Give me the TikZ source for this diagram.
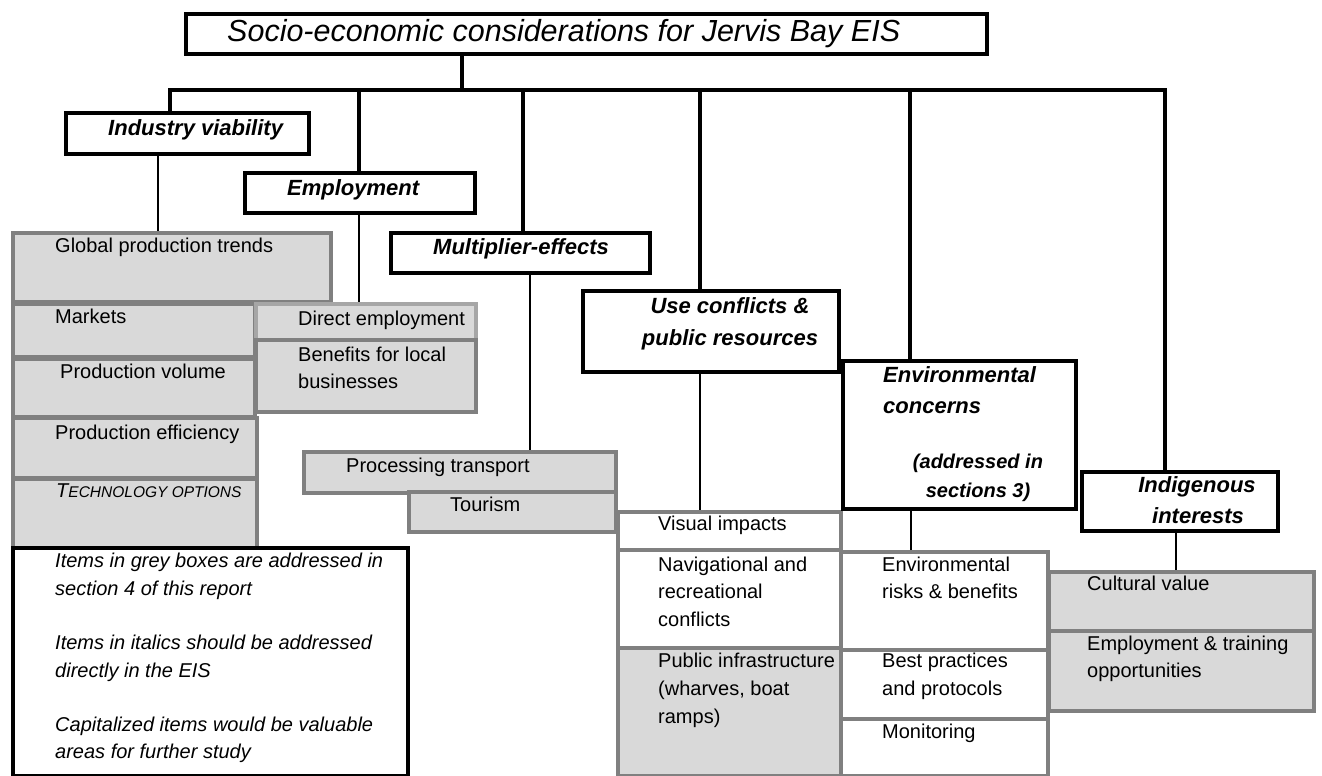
\documentclass[tikz,border=0pt]{standalone}
\usepackage{fontspec}
\setmainfont{Liberation Sans}
\definecolor{gf}{HTML}{D9D9D9}
\definecolor{gb}{HTML}{808080}
\definecolor{gbl}{HTML}{A6A6A6}
\begin{document}
\begin{tikzpicture}[x=1pt,y=-1pt,
  hbox/.style={draw=black, line width=4pt, fill=white, inner sep=0pt, anchor=north west},
  gbox/.style={draw=gb, line width=4pt, fill=gf, inner sep=0pt, anchor=north west},
  wbox/.style={draw=gb, line width=4pt, fill=white, inner sep=0pt, anchor=north west},
  thick4/.style={line width=4pt, draw=black},
  thin2/.style={line width=1.8pt, draw=black},
  bodytxt/.style={inner sep=0pt, anchor=base west, font=\fontsize{20}{24}\selectfont},
  legtxt/.style={inner sep=0pt, anchor=base west, font=\fontsize{20}{24}\selectfont\itshape},
  headtxt/.style={inner sep=0pt, anchor=base west, font=\fontsize{22}{26}\selectfont\bfseries\itshape},
  headc/.style={headtxt, anchor=base},
  subhead/.style={inner sep=0pt, anchor=base, font=\fontsize{20}{24}\selectfont\bfseries\itshape},
  titletxt/.style={inner sep=0pt, anchor=base west, font=\fontsize{30.5}{34}\selectfont\itshape}
]
\useasboundingbox (0,0) rectangle (1322,776);
\fill[white] (0,0) rectangle (1322,776);

% ---------- grey boxes ----------
\node[gbox, minimum width=318, minimum height=69] (glob) at (11,231) {};
\node[gbox, minimum width=242, minimum height=53] (mkt) at (11,302) {};
\node[gbox, minimum width=242, minimum height=58] (pvol) at (11,357) {};
\node[gbox, minimum width=244, minimum height=60] (peff) at (11,416) {};
\node[gbox, minimum width=244, minimum height=80] (tech) at (11,477) {};
\node[gbox, draw=gbl, minimum width=220, minimum height=36] (dir) at (254,302) {};
\node[gbox, minimum width=220, minimum height=72] (ben) at (254,338) {};
\node[gbox, minimum width=312, minimum height=41] (proc) at (302,450) {};
\node[gbox, minimum width=207, minimum height=40] (tour) at (407,490) {};
\node[gbox, minimum width=223, minimum height=128] (pub) at (616,646) {};
\node[gbox, minimum width=265, minimum height=60] (cult) at (1047,570) {};
\node[gbox, minimum width=265, minimum height=80] (empt) at (1047,629) {};

% ---------- white boxes with grey border ----------
\node[wbox, minimum width=223, minimum height=38] (vis) at (616,510) {};
\node[wbox, minimum width=223, minimum height=98] (nav) at (616,548) {};
\node[wbox, minimum width=207, minimum height=98] (envr) at (839,550) {};
\node[wbox, minimum width=207, minimum height=69] (best) at (839,648) {};
\node[wbox, minimum width=207, minimum height=57] (mon) at (839,717) {};

% ---------- black heading boxes ----------
\node[hbox, minimum width=801, minimum height=40] (title) at (184,12) {};
\node[hbox, minimum width=243, minimum height=41] (indv) at (64,111) {};
\node[hbox, minimum width=230, minimum height=40] (emp) at (243,171) {};
\node[hbox, minimum width=259, minimum height=40] (mult) at (389,231) {};
\node[hbox, minimum width=256, minimum height=81] (use) at (581,289) {};
\node[hbox, minimum width=233, minimum height=148] (env) at (841,359) {};
\node[hbox, minimum width=196, minimum height=59] (indg) at (1080,470) {};
\node[hbox, minimum width=395, minimum height=228] (leg) at (11,546) {};

% ---------- connectors ----------
\coordinate (busL) at (170,90);
\coordinate (busR) at (1165,90);
\coordinate (bt) at (462,90);
\coordinate (be) at (359,90);
\coordinate (bm) at (523,90);
\coordinate (bu) at (700,90);
\coordinate (bv) at (910,90);
\draw[thick4] (busL |- indv.north) -- (busL) -- (busR) -- (busR |- indg.north);
\draw[thick4] (bt) -- (bt |- title.south);
\draw[thick4] (be) -- (be |- emp.north);
\draw[thick4] (bm) -- (bm |- mult.north);
\draw[thick4] (bu) -- (bu |- use.north);
\draw[thick4] (bv) -- (bv |- env.north);

\coordinate (ci) at (158,0);
\coordinate (ce) at (359,0);
\coordinate (cm) at (530,0);
\coordinate (cu) at (700,0);
\coordinate (cv) at (911,0);
\coordinate (cg) at (1176,0);
\draw[thin2] (indv.south -| ci) -- (glob.north -| ci);
\draw[thin2] (emp.south -| ce) -- (dir.north -| ce);
\draw[thin2] (mult.south -| cm) -- (proc.north -| cm);
\draw[thin2] (use.south -| cu) -- (vis.north -| cu);
\draw[thin2] (env.south -| cv) -- (envr.north -| cv);
\draw[thin2] (indg.south -| cg) -- (cult.north -| cg);

% ---------- texts ----------
\node[titletxt] (titlet) at (227,42) {Socio-economic considerations for Jervis Bay EIS};
\node[headtxt] (indvt) at (108,135) {Industry viability};
\node[headtxt] (empt1) at (287,195) {Employment};
\node[headtxt] (multt) at (433,254) {Multiplier-effects};
\node[headc] (uset1) at (730,313) {Use conflicts \&};
\node[headc] (uset2) at (730,345) {public resources};
\node[headtxt] (envt1) at (883,382) {Environmental};
\node[headtxt] (envt2) at (883,413) {concerns};
\node[subhead] (envt3) at (978,468) {(addressed in};
\node[subhead] (envt4) at (978,497) {sections 3)};
\node[headc] (indgt1) at (1197,492) {Indigenous};
\node[headc] (indgt2) at (1198,523) {interests};

\node[bodytxt] (globt) at (55,252) {Global production trends};
\node[bodytxt] (mktt) at (55,323) {Markets};
\node[bodytxt] (pvolt) at (60,378) {Production volume};
\node[bodytxt] (pefft) at (55,439) {Production efficiency};
\node[bodytxt, font=\fontsize{20}{24}\selectfont\itshape] (techt) at (56,497) {T{\fontsize{15.5}{18}\selectfont ECHNOLOGY OPTIONS}};
\node[bodytxt] (dirt) at (298,325) {Direct employment};
\node[bodytxt] (bent1) at (298,361) {Benefits for local};
\node[bodytxt] (bent2) at (298,388) {businesses};
\node[bodytxt] (proct) at (346,472) {Processing transport};
\node[bodytxt] (tourt) at (450,511) {Tourism};
\node[bodytxt] (vist) at (658,530) {Visual impacts};
\node[bodytxt] (navt1) at (658,571) {Navigational and};
\node[bodytxt] (navt2) at (658,598) {recreational};
\node[bodytxt] (navt3) at (658,626) {conflicts};
\node[bodytxt] (pubt1) at (658,667) {Public infrastructure};
\node[bodytxt] (pubt2) at (658,695) {(wharves, boat};
\node[bodytxt] (pubt3) at (658,723) {ramps)};
\node[bodytxt] (envrt1) at (882,571) {Environmental};
\node[bodytxt] (envrt2) at (882,598) {risks \& benefits};
\node[bodytxt] (bestt1) at (882,667) {Best practices};
\node[bodytxt] (bestt2) at (882,695) {and protocols};
\node[bodytxt] (mont) at (882,738) {Monitoring};
\node[bodytxt] (cultt) at (1087,590) {Cultural value};
\node[bodytxt] (emptt1) at (1087,650) {Employment \& training};
\node[bodytxt] (emptt2) at (1087,677) {opportunities};

\node[legtxt] (leg1) at (55,567) {Items in grey boxes are addressed in};
\node[legtxt] (leg2) at (55,595) {section 4 of this report};
\node[legtxt] (leg3) at (55,649) {Items in italics should be addressed};
\node[legtxt] (leg4) at (55,677) {directly in the EIS};
\node[legtxt] (leg5) at (55,731) {Capitalized items would be valuable};
\node[legtxt] (leg6) at (55,758) {areas for further study};
\end{tikzpicture}
\end{document}
